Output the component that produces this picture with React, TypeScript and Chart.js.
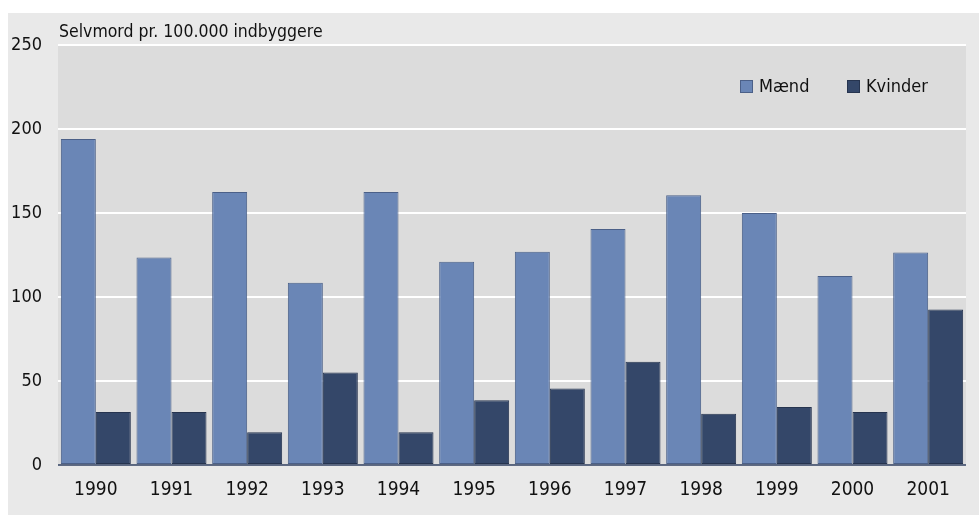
import React, { useEffect, useRef } from "react";
import { Chart, registerables } from "chart.js";

Chart.register(...registerables);

const years = ["1990", "1991", "1992", "1993", "1994", "1995", "1996", "1997", "1998", "1999", "2000", "2001"];
const maend = [194, 123.5, 162.5, 108.5, 162.5, 121, 127, 140.5, 160.5, 150, 112.5, 126.5];
const kvinder = [31.5, 31.5, 19.5, 55, 19.5, 38.5, 45.5, 61.5, 30.5, 34.5, 31.5, 92.5];
const yTicks = [0, 50, 100, 150, 200, 250];
const titleText = "Selvmord pr. 100.000 indbyggere";

const FONT = "'DejaVu Sans Condensed', 'DejaVu Sans', sans-serif";

const bgPlugin = {
  id: "bgPlugin",
  beforeDraw(chart: any) {
    const { ctx, chartArea } = chart;
    ctx.save();
    ctx.fillStyle = "#e9e9e9";
    ctx.fillRect(8, 13, chart.width - 8, chart.height - 13);
    ctx.fillStyle = "#dcdcdc";
    ctx.fillRect(chartArea.left, chartArea.top, chartArea.right - chartArea.left, chartArea.bottom - chartArea.top);
    ctx.restore();
  },
  afterDraw(chart: any) {
    const { ctx, chartArea } = chart;
    ctx.save();
    ctx.strokeStyle = "#2f3f60";
    ctx.lineWidth = 1.5;
    ctx.beginPath();
    ctx.moveTo(chartArea.left, chartArea.bottom);
    ctx.lineTo(chartArea.right, chartArea.bottom);
    ctx.stroke();
    ctx.fillStyle = "#111";
    ctx.font = `17.5px ${FONT}`;
    ctx.textAlign = "left";
    ctx.textBaseline = "alphabetic";
    ctx.fillText(titleText, chartArea.left + 1, 37);
    const items = chart.data.datasets.map((d: any) => ({ label: d.label, color: d.backgroundColor, border: d.borderColor }));
    const xs = [740, 847];
    ctx.font = `18px ${FONT}`;
    ctx.textBaseline = "middle";
    items.forEach((it: any, i: number) => {
      const x = xs[i];
      const y = 87;
      ctx.fillStyle = it.color;
      ctx.fillRect(x, y - 7, 13, 13);
      ctx.strokeStyle = it.border;
      ctx.lineWidth = 1;
      ctx.strokeRect(x + 0.5, y - 6.5, 12, 12);
      ctx.fillStyle = "#111";
      ctx.fillText(it.label, x + 19, y);
    });
    ctx.restore();
  },
};

export default function App() {
  const ref = useRef<HTMLCanvasElement>(null);
  useEffect(() => {
    document.body.style.margin = "0";
    const chart = new Chart(ref.current!, {
      type: "bar",
      data: {
        labels: years,
        datasets: [
          { label: "Mænd", data: maend, backgroundColor: "#6a86b6", borderColor: "#4b6088", borderWidth: 1, borderSkipped: false },
          { label: "Kvinder", data: kvinder, backgroundColor: "#344769", borderColor: "#26344f", borderWidth: 1, borderSkipped: false },
        ],
      },
      options: {
        animation: false,
        responsive: false,
        layout: { padding: { left: 8, top: 45, right: 13, bottom: 0 } },
        datasets: { bar: { categoryPercentage: 0.925, barPercentage: 1 } },
        plugins: { legend: { display: false }, tooltip: { enabled: false } },
        scales: {
          x: {
            grid: { display: false, drawTicks: false },
            border: { display: false },
            ticks: { color: "#111", font: { family: FONT, size: 19 }, padding: 14, maxRotation: 0 },
            afterFit(s: any) { s.height = 50; },
          },
          y: {
            min: 0,
            max: 250,
            afterBuildTicks(s: any) { s.ticks = yTicks.map((v) => ({ value: v })); },
            grid: { color: (c: any) => (c.tick && c.tick.value === 0 ? "rgba(0,0,0,0)" : "#ffffff"), lineWidth: 2, drawTicks: false },
            border: { display: false },
            ticks: { color: "#111", font: { family: FONT, size: 18 }, padding: 16 },
            afterFit(s: any) { s.width = 50; },
          },
        },
      },
      plugins: [bgPlugin],
    });
    return () => chart.destroy();
  }, []);
  return <canvas ref={ref} width={979} height={515} style={{ display: "block" }} />;
}
